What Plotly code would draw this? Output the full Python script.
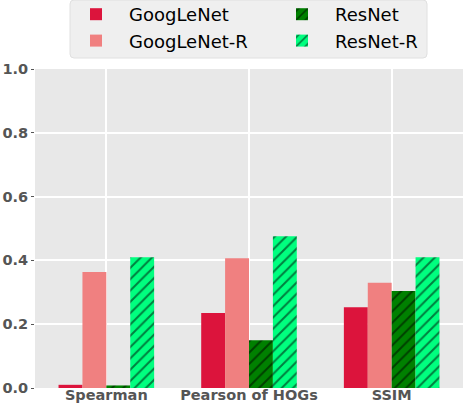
import plotly.graph_objects as go

categories = ["Spearman", "Pearson of HOGs", "SSIM"]
series_names = ["GoogLeNet", "GoogLeNet-R", "ResNet", "ResNet-R"]
googlenet = [0.01, 0.235, 0.253]
googlenet_r = [0.364, 0.407, 0.33]
resnet = [0.008, 0.15, 0.304]
resnet_r = [0.41, 0.476, 0.41]
y_ticks = [0.0, 0.2, 0.4, 0.6, 0.8, 1.0]

values = [googlenet, googlenet_r, resnet, resnet_r]
colors = ["#DC143C", "#F08080", "#008000", "#00FF7F"]
hatched = [False, False, True, True]
legend_ids = ["legend", "legend", "legend2", "legend2"]

W, H = 466, 404
ML, MR, MT, MB = 35, 3, 69, 16
PW, PH = W - ML - MR, H - MT - MB

def px_x(p):
    return (p - ML) / PW

def px_y(p):
    return (H - MB - p) / PH

fig = go.Figure()
for name, vals, col, h, lg in zip(series_names, values, colors, hatched, legend_ids):
    marker = dict(color=col, line=dict(width=0))
    if h:
        marker["pattern"] = dict(shape="/", fgcolor="black", bgcolor=col,
                                 size=8, solidity=0.25, fillmode="overlay")
    fig.add_trace(go.Bar(x=categories, y=vals, name=name, marker=marker, legend=lg))

# rounded legend frame
x0, x1, y0, y1 = px_x(70), px_x(427), px_y(58), px_y(0)
rx, ry = 4 / PW, 4 / PH
path = (f"M{x0+rx},{y0} L{x1-rx},{y0} Q{x1},{y0} {x1},{y0+ry} L{x1},{y1-ry} "
        f"Q{x1},{y1} {x1-rx},{y1} L{x0+rx},{y1} Q{x0},{y1} {x0},{y1-ry} "
        f"L{x0},{y0+ry} Q{x0},{y0} {x0+rx},{y0} Z")
fig.add_shape(type="path", path=path, xref="paper", yref="paper",
              fillcolor="#EFEFEF", line=dict(color="#E0E0E0", width=1), layer="below")

legend_common = dict(orientation="v", xanchor="left", yanchor="top",
                     bgcolor="rgba(0,0,0,0)", borderwidth=0, itemwidth=56,
                     font=dict(size=18, color="black", family="DejaVu Sans"))
tickfont = dict(size=14.5, color="#555555", family="DejaVu Sans", weight="bold")
fig.update_layout(
    width=W, height=H,
    margin=dict(l=ML, r=MR, t=MT, b=MB, autoexpand=False),
    barmode="group", bargap=0.33, bargroupgap=0,
    plot_bgcolor="#E8E8E8", paper_bgcolor="white",
    font=dict(family="DejaVu Sans", color="#555555"),
    legend=dict(x=px_x(63), y=px_y(-4), **legend_common),
    legend2=dict(x=px_x(269), y=px_y(-4), **legend_common),
    xaxis=dict(showgrid=True, gridcolor="white", gridwidth=1.5, automargin=False,
               tickfont=tickfont, ticks="", zeroline=False, ticklabelstandoff=-4),
    yaxis=dict(range=[0, 1.0], tickvals=y_ticks, ticktext=[f"{v:.1f}" for v in y_ticks],
               showgrid=True, gridcolor="white", gridwidth=1.5, zeroline=False,
               automargin=False,
               ticks="outside", ticklen=3, tickcolor="#555555", tickfont=tickfont),
)

fig.write_html("out.html", config={"displayModeBar": False},
               post_script="document.body.style.margin='0';")
